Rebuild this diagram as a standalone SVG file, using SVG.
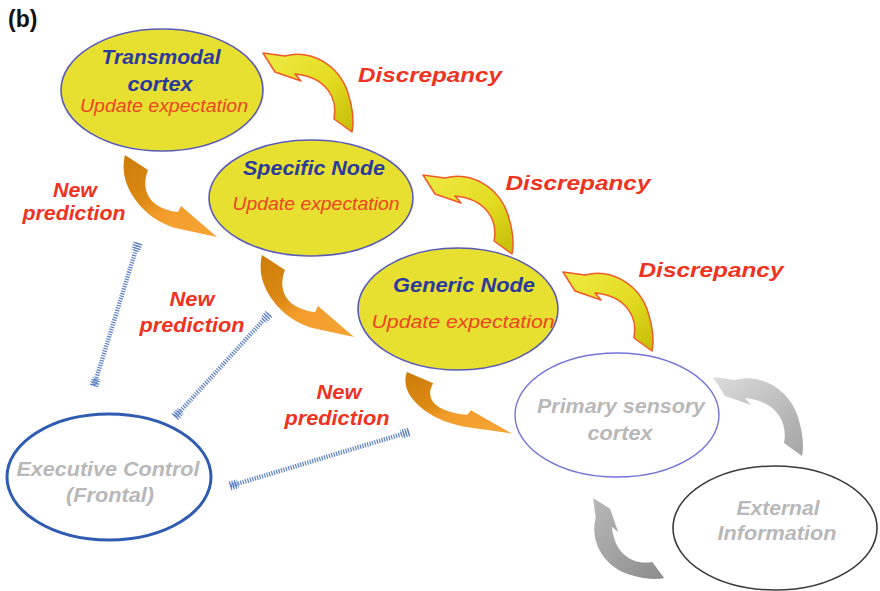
<svg xmlns="http://www.w3.org/2000/svg" width="880" height="591" viewBox="0 0 880 591">
  <style>
    text { font-family: "Liberation Sans", Arial, sans-serif; text-anchor: middle; }
    .title { font-weight: bold; font-size: 23px; fill: #111; text-anchor: start; }
    .head { font-weight: bold; font-style: italic; font-size: 20px; fill: #2b3a9c; }
    .upd { font-style: italic; font-size: 18px; fill: #ee4422; }
    .red { font-weight: bold; font-style: italic; font-size: 20px; fill: #ee3322; }
    .grey { font-weight: bold; font-style: italic; font-size: 20px; fill: #b8b8b8; }
    .level { fill: #e8e030; stroke: #5a5ab8; stroke-width: 1.6; }
    .plain { fill: #ffffff; }
    .hatch { stroke: #5a7fc4; stroke-width: 4.5; stroke-dasharray: 1.2 1.3; fill: none; }
    .hatchEnd { stroke: #5a7fc4; stroke-width: 9; stroke-dasharray: 1.2 1.3; fill: none; }
    .disc { fill: url(#yellowGrad); stroke: #f05a28; stroke-width: 1.5; stroke-linejoin: round; }
    .pred { fill: url(#orangeGrad); }
  </style>
  <defs>
    <linearGradient id="yellowGrad" x1="0" y1="0" x2="1" y2="1">
      <stop offset="0" stop-color="#eeea44"/>
      <stop offset="0.55" stop-color="#e4dc22"/>
      <stop offset="1" stop-color="#c4bc06"/>
    </linearGradient>
    <linearGradient id="orangeGrad" x1="0" y1="0" x2="0.6" y2="1">
      <stop offset="0" stop-color="#cc7c08"/>
      <stop offset="0.5" stop-color="#dc8a14"/>
      <stop offset="0.7" stop-color="#f39c2c"/>
      <stop offset="1" stop-color="#f5a232"/>
    </linearGradient>
    <linearGradient id="greyUpGrad" x1="0" y1="0" x2="1" y2="1">
      <stop offset="0" stop-color="#dcdcdc"/>
      <stop offset="1" stop-color="#a4a4a4"/>
    </linearGradient>
    <linearGradient id="greyLowGrad" x1="0" y1="0" x2="1" y2="1">
      <stop offset="0" stop-color="#b8b8b8"/>
      <stop offset="1" stop-color="#8c8c8c"/>
    </linearGradient>
    <!-- curved "discrepancy" arrow, tip at the origin, head pointing left -->
    <path id="curlArrow" d="M0,0 L22,3 C48,-4 76,12 85,40 C90,56 91,70 89,79 L71,66 C75,46 64,24 32,21 L38,28 L12,19 Z"/>
    <!-- curved "new prediction" arrow -->
    <path id="dropArrow" d="M125,155 L148,170 C141,188 148,203 165,209 C170,211 175,212 178,212 L181,206 L217,237 C205,234 192,232 180,229 C155,224 134,205 126,182 C123,172 123,163 125,155 Z"/>
  </defs>

  <rect width="880" height="591" fill="#ffffff"/>

  <text class="title" x="8" y="27">(b)</text>

  <!-- connectors -->
  <g id="connectors">
    <!-- discrepancy arrows (upward) -->
    <use href="#curlArrow" class="disc" transform="translate(263,53)"/>
    <use href="#curlArrow" class="disc" transform="translate(423,175)"/>
    <use href="#curlArrow" class="disc" transform="translate(563,272)"/>
    <!-- new prediction arrows (downward) -->
    <use href="#dropArrow" class="pred"/>
    <use href="#dropArrow" class="pred" transform="translate(137,100)"/>
    <use href="#dropArrow" class="pred" transform="translate(407,372) scale(1.14,0.75) translate(-125,-155)"/>
    <!-- sensory loop -->
    <use href="#curlArrow" fill="url(#greyUpGrad)" transform="translate(713,377)"/>
    <use href="#curlArrow" fill="url(#greyLowGrad)" transform="matrix(0,0.9,0.9,0,593,498)"/>
    <!-- executive control links -->
    <line class="hatch" x1="138" y1="243" x2="94" y2="386"/>
    <line class="hatchEnd" x1="138" y1="243" x2="135.6" y2="250.6"/>
    <line class="hatchEnd" x1="94" y1="386" x2="96.4" y2="378.4"/>
    <line class="hatch" x1="269" y1="314" x2="175" y2="417"/>
    <line class="hatchEnd" x1="269" y1="314" x2="263.6" y2="319.9"/>
    <line class="hatchEnd" x1="175" y1="417" x2="180.4" y2="411.1"/>
    <line class="hatch" x1="409" y1="432" x2="230" y2="486"/>
    <line class="hatchEnd" x1="409" y1="432" x2="401.3" y2="434.3"/>
    <line class="hatchEnd" x1="230" y1="486" x2="237.7" y2="483.7"/>
  </g>

  <g id="transmodal">
    <ellipse class="level" cx="162" cy="90" rx="101" ry="61"/>
    <text class="head" x="161" y="64" textLength="119" lengthAdjust="spacingAndGlyphs">Transmodal</text>
    <text class="head" x="160" y="91" textLength="65" lengthAdjust="spacingAndGlyphs">cortex</text>
    <text class="upd" x="164" y="112" textLength="168" lengthAdjust="spacingAndGlyphs">Update expectation</text>
  </g>

  <g id="specific">
    <ellipse class="level" cx="311" cy="198" rx="102" ry="58"/>
    <text class="head" x="314" y="175" textLength="142" lengthAdjust="spacingAndGlyphs">Specific Node</text>
    <text class="upd" x="316" y="210" textLength="167" lengthAdjust="spacingAndGlyphs">Update expectation</text>
  </g>

  <g id="generic">
    <ellipse class="level" cx="458" cy="309" rx="100" ry="61"/>
    <text class="head" x="464" y="292" textLength="142" lengthAdjust="spacingAndGlyphs">Generic Node</text>
    <text class="upd" x="463" y="328" textLength="183" lengthAdjust="spacingAndGlyphs">Update expectation</text>
  </g>

  <g id="primary">
    <ellipse cx="617" cy="415" rx="102" ry="62" fill="none" stroke="#7474d8" stroke-width="1.4"/>
    <text class="grey" x="621" y="413" textLength="168" lengthAdjust="spacingAndGlyphs">Primary sensory</text>
    <text class="grey" x="620" y="440" textLength="65" lengthAdjust="spacingAndGlyphs">cortex</text>
  </g>

  <g id="external">
    <ellipse cx="775" cy="528" rx="102" ry="62" fill="none" stroke="#3a3a3a" stroke-width="1.6"/>
    <text class="grey" x="778" y="515" textLength="83" lengthAdjust="spacingAndGlyphs">External</text>
    <text class="grey" x="777" y="540" textLength="119" lengthAdjust="spacingAndGlyphs">Information</text>
  </g>

  <g id="executive">
    <ellipse cx="109" cy="477" rx="102" ry="63" fill="none" stroke="#2f5cb0" stroke-width="3"/>
    <text class="grey" x="108" y="476" textLength="183" lengthAdjust="spacingAndGlyphs">Executive Control</text>
    <text class="grey" x="110" y="502" textLength="88" lengthAdjust="spacingAndGlyphs">(Frontal)</text>
  </g>

  <!-- arrow labels -->
  <g id="labels">
    <text class="red" x="430" y="82" textLength="144" lengthAdjust="spacingAndGlyphs">Discrepancy</text>
    <text class="red" x="578" y="190" textLength="145" lengthAdjust="spacingAndGlyphs">Discrepancy</text>
    <text class="red" x="711" y="277" textLength="145" lengthAdjust="spacingAndGlyphs">Discrepancy</text>
    <text class="red" x="75" y="197" textLength="44" lengthAdjust="spacingAndGlyphs">New</text>
    <text class="red" x="74" y="220" textLength="103" lengthAdjust="spacingAndGlyphs">prediction</text>
    <text class="red" x="192" y="306" textLength="45" lengthAdjust="spacingAndGlyphs">New</text>
    <text class="red" x="192" y="332" textLength="105" lengthAdjust="spacingAndGlyphs">prediction</text>
    <text class="red" x="339" y="399" textLength="45" lengthAdjust="spacingAndGlyphs">New</text>
    <text class="red" x="337" y="425" textLength="105" lengthAdjust="spacingAndGlyphs">prediction</text>
  </g>
</svg>
